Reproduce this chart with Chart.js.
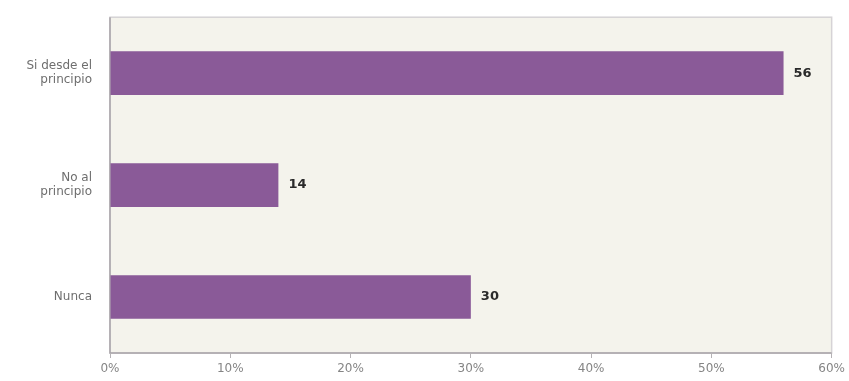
<!DOCTYPE html>
<html>
<head>
<meta charset="utf-8">
<script src="https://cdn.jsdelivr.net/npm/chart.js@4"></script>
<style>
  html, body { margin: 0; padding: 0; background: #ffffff; }
  #wrap { width: 849px; height: 381px; position: relative; }
</style>
</head>
<body>
<div id="wrap"><canvas id="chart"></canvas></div>
<script>
const categories = [['Si desde el', 'principio'], ['No al', 'principio'], 'Nunca'];
const values = [56, 14, 30];
const tickLabels = ['0%', '10%', '20%', '30%', '40%', '50%', '60%'];

// plot background + frame
const plotFrame = {
    id: 'plotFrame',
    beforeDraw(chart) {
        const a = chart.chartArea;
        const ctx = chart.ctx;
        ctx.save();
        ctx.fillStyle = '#f4f3ec';
        ctx.fillRect(a.left, a.top, a.right - a.left, a.bottom - a.top);
        ctx.strokeStyle = '#d6d3d6';
        ctx.lineWidth = 1.5;
        ctx.strokeRect(a.left, a.top, a.right - a.left, a.bottom - a.top);
        ctx.strokeStyle = '#a8a4a8';
        ctx.beginPath();
        ctx.moveTo(a.left, a.top);
        ctx.lineTo(a.left, a.bottom);
        ctx.lineTo(a.right, a.bottom);
        ctx.stroke();
        ctx.restore();
    }
};

// value labels at bar ends
const valueLabels = {
    id: 'valueLabels',
    afterDatasetsDraw(chart) {
        const ctx = chart.ctx;
        const meta = chart.getDatasetMeta(0);
        ctx.save();
        ctx.fillStyle = '#2a2a2a';
        ctx.font = 'bold 13px "DejaVu Sans"';
        ctx.textBaseline = 'middle';
        ctx.textAlign = 'left';
        meta.data.forEach((bar, i) => {
            ctx.fillText(String(values[i]), bar.x + 10, bar.y);
        });
        ctx.restore();
    }
};

new Chart(document.getElementById('chart'), {
    type: 'bar',
    data: {
        labels: categories,
        datasets: [{
            data: values,
            backgroundColor: '#8a5a98',
            borderWidth: 0,
            categoryPercentage: 0.39,
            barPercentage: 1.0
        }]
    },
    options: {
        indexAxis: 'y',
        responsive: true,
        maintainAspectRatio: false,
        animation: false,
        layout: { padding: { top: 15, right: 15, left: 0, bottom: 0 } },
        plugins: { legend: { display: false }, tooltip: { enabled: false } },
        scales: {
            x: {
                min: 0,
                max: 60,
                border: { display: false },
                grid: { drawOnChartArea: false, drawTicks: true, tickLength: 5, color: '#b5b2b5' },
                ticks: {
                    stepSize: 10,
                    color: '#858585',
                    font: { family: 'DejaVu Sans', size: 12 },
                    padding: 4,
                    maxRotation: 0,
                    callback: (v, i) => tickLabels[i]
                },
                afterFit(scale) { scale.height = 28; }
            },
            y: {
                border: { display: false },
                grid: { display: false },
                ticks: {
                    color: '#6e6e6e',
                    font: { family: 'DejaVu Sans', size: 12 },
                    padding: 10
                },
                afterFit(scale) { scale.width = 110; }
            }
        }
    },
    plugins: [plotFrame, valueLabels]
});
</script>
</body>
</html>
